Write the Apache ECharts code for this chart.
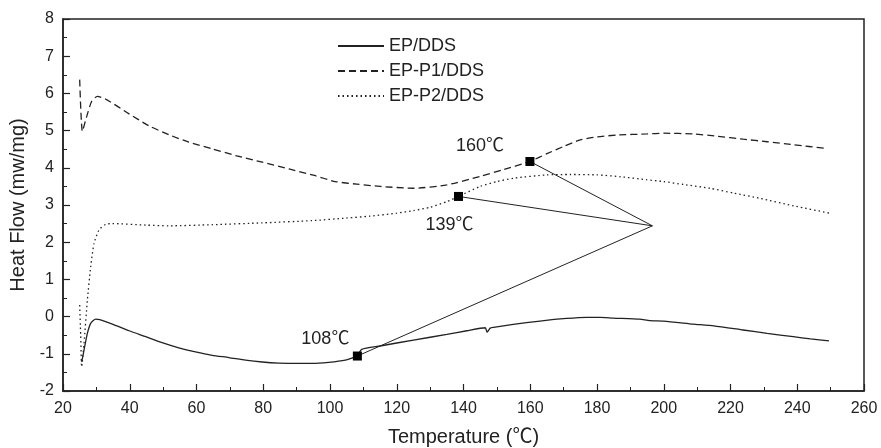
<!DOCTYPE html>
<html>
<head>
<meta charset="utf-8">
<title>DSC curves</title>
<script src="https://cdn.jsdelivr.net/npm/echarts@6/dist/echarts.min.js"></script>
<style>
  html, body { margin: 0; padding: 0; background: #fff; }
  #chart { width: 881px; height: 448px; }
</style>
</head>
<body>
<div id="chart"></div>
<script>
// 数据: [温度, 热流]
const seriesNames = ['EP/DDS', 'EP-P1/DDS', 'EP-P2/DDS']

const epDDS = [
  [25.6, -1.22], [26.3, -0.90], [27.3, -0.45], [28.3, -0.18], [29.8, -0.07], [31, -0.08],
  [34.8, -0.20], [39.8, -0.38], [44.8, -0.54], [49.7, -0.70], [54.7, -0.84], [59.7, -0.95],
  [64.7, -1.04], [69.7, -1.10], [74.7, -1.17], [79.7, -1.22], [84.7, -1.25], [89.7, -1.26],
  [94.6, -1.26], [99.6, -1.23], [104.6, -1.17], [107.6, -1.08], [108.2, -1.06], [109.5, -0.88],
  [115, -0.79], [125, -0.63], [135, -0.48], [141, -0.38], [146.5, -0.30], [147.1, -0.42],
  [148, -0.31], [149, -0.29], [154.9, -0.21], [162.9, -0.12], [170.9, -0.05], [176.9, -0.02],
  [180.9, -0.02], [184.9, -0.04], [192.8, -0.07], [195.8, -0.11], [200, -0.12], [208.8, -0.20],
  [215, -0.25], [223.8, -0.36], [231, -0.45], [238.8, -0.54], [244, -0.60], [249.5, -0.65]
]

const epP1DDS = [
  [25.0, 6.37], [25.8, 4.98], [27, 5.35], [28.6, 5.79], [30.3, 5.92], [33.3, 5.82],
  [39.8, 5.45], [45.7, 5.13], [51.7, 4.89], [57.7, 4.69], [64.7, 4.51], [71.7, 4.33],
  [79.7, 4.15], [87.7, 3.97], [95, 3.80], [101.6, 3.63], [108, 3.56], [115, 3.50],
  [125, 3.45], [135, 3.54], [145, 3.77], [152, 3.95], [159.9, 4.17], [165, 4.38],
  [169.9, 4.57], [175, 4.75], [180, 4.83], [186, 4.88], [195, 4.91], [200, 4.93],
  [208.8, 4.91], [216, 4.85], [223.8, 4.77], [231, 4.70], [238.8, 4.62], [248.7, 4.52]
]

const epP2DDS = [
  [25.0, 0.31], [25.3, -0.5], [25.6, -1.35], [26.3, -0.72], [27.3, 0.44], [28.3, 1.34],
  [29.3, 1.97], [30.8, 2.33], [32.8, 2.48], [34.8, 2.50], [44.8, 2.46], [51.7, 2.44],
  [64.7, 2.47], [79.7, 2.52], [94.7, 2.58], [105, 2.65], [112, 2.70], [120, 2.78],
  [125, 2.85], [130, 2.94], [135, 3.09], [138.5, 3.23], [145, 3.50], [150, 3.63],
  [155, 3.72], [164.9, 3.81], [172, 3.82], [179.9, 3.81], [187, 3.76], [194.8, 3.68],
  [200, 3.63], [206, 3.55], [213.8, 3.45], [221, 3.32], [228.8, 3.18], [238.8, 2.98],
  [249.7, 2.78]
]

// Tg 标注点
const tgPoints = [[108.2, -1.06], [138.5, 3.23], [159.9, 4.17]]
const tgLabels = ['108℃', '139℃', '160℃']
const tgVertex = [196.6, 2.44]

const xTicks = { min: 20, max: 260, interval: 20 }
const yTicks = { min: -2, max: 8, interval: 1 }

const font = '"Liberation Sans", Arial, "Noto Sans CJK SC", sans-serif'
const labelOffsets = [[-32, -17], [-9, 29], [-50, -15]]

const chart = echarts.init(document.getElementById('chart'))

const axisCommon = {
  type: 'value',
  splitLine: { show: false },
  axisLine: { show: true, onZero: false, lineStyle: { color: '#222', width: 1.5 } },
  axisTick: { show: true, inside: true, length: 7, lineStyle: { color: '#222', width: 1.2 } },
  minorTick: { show: true, splitNumber: 2, length: 4, lineStyle: { color: '#222', width: 1 } },
  axisLabel: { color: '#222', fontSize: 16, fontFamily: font },
  nameTextStyle: { color: '#222', fontSize: 20, fontFamily: font }
}

const lineTypes = ['solid', [7, 4], [1.5, 3]]
const curves = [epDDS, epP1DDS, epP2DDS].map((d, i) => ({
  name: seriesNames[i],
  type: 'line',
  data: d,
  symbol: 'none',
  smooth: 0.2,
  lineStyle: { color: '#222', width: 1.3, type: lineTypes[i] },
  itemStyle: { color: '#222' },
  z: 3
}))

const connectors = tgPoints.map(p => ({
  type: 'line',
  data: [p, tgVertex],
  symbol: 'none',
  silent: true,
  lineStyle: { color: '#222', width: 1 },
  z: 4
}))

const option = {
  animation: false,
  backgroundColor: '#fff',
  grid: {
    left: 63, right: 17, top: 19, bottom: 57,
    outerBoundsMode: 'none',
    show: true, borderColor: '#222', borderWidth: 1.5
  },
  legend: {
    data: seriesNames,
    orient: 'vertical',
    left: 332,
    top: 32,
    itemWidth: 46,
    itemHeight: 12,
    itemGap: 7,
    itemStyle: { opacity: 0 },
    textStyle: { color: '#222', fontSize: 18, fontFamily: font }
  },
  xAxis: Object.assign({}, axisCommon, {
    min: xTicks.min, max: xTicks.max, interval: xTicks.interval,
    name: 'Temperature (℃)',
    nameLocation: 'middle',
    nameGap: 36,
    axisLabel: Object.assign({}, axisCommon.axisLabel, { margin: 10 })
  }),
  yAxis: Object.assign({}, axisCommon, {
    min: yTicks.min, max: yTicks.max, interval: yTicks.interval,
    name: 'Heat Flow (mw/mg)',
    nameLocation: 'middle',
    nameGap: 28,
    axisLabel: Object.assign({}, axisCommon.axisLabel, { margin: 9 })
  }),
  series: curves.concat(connectors, [
    {
      type: 'scatter',
      data: tgPoints.map((p, i) => ({
        value: p,
        label: {
          show: true,
          formatter: tgLabels[i],
          position: 'inside',
          offset: labelOffsets[i],
          color: '#222',
          fontSize: 18,
          fontFamily: font
        }
      })),
      symbol: 'rect',
      symbolSize: 9,
      itemStyle: { color: '#000', opacity: 1 },
      z: 5
    },
    {
      type: 'scatter',
      data: [tgVertex],
      symbol: 'none',
      label: {
        show: true,
        formatter: 'Tg',
        position: 'right',
        distance: 3,
        color: '#222',
        fontSize: 18,
        fontFamily: font
      },
      z: 5
    }
  ])
}

chart.setOption(option)
</script>
</body>
</html>
